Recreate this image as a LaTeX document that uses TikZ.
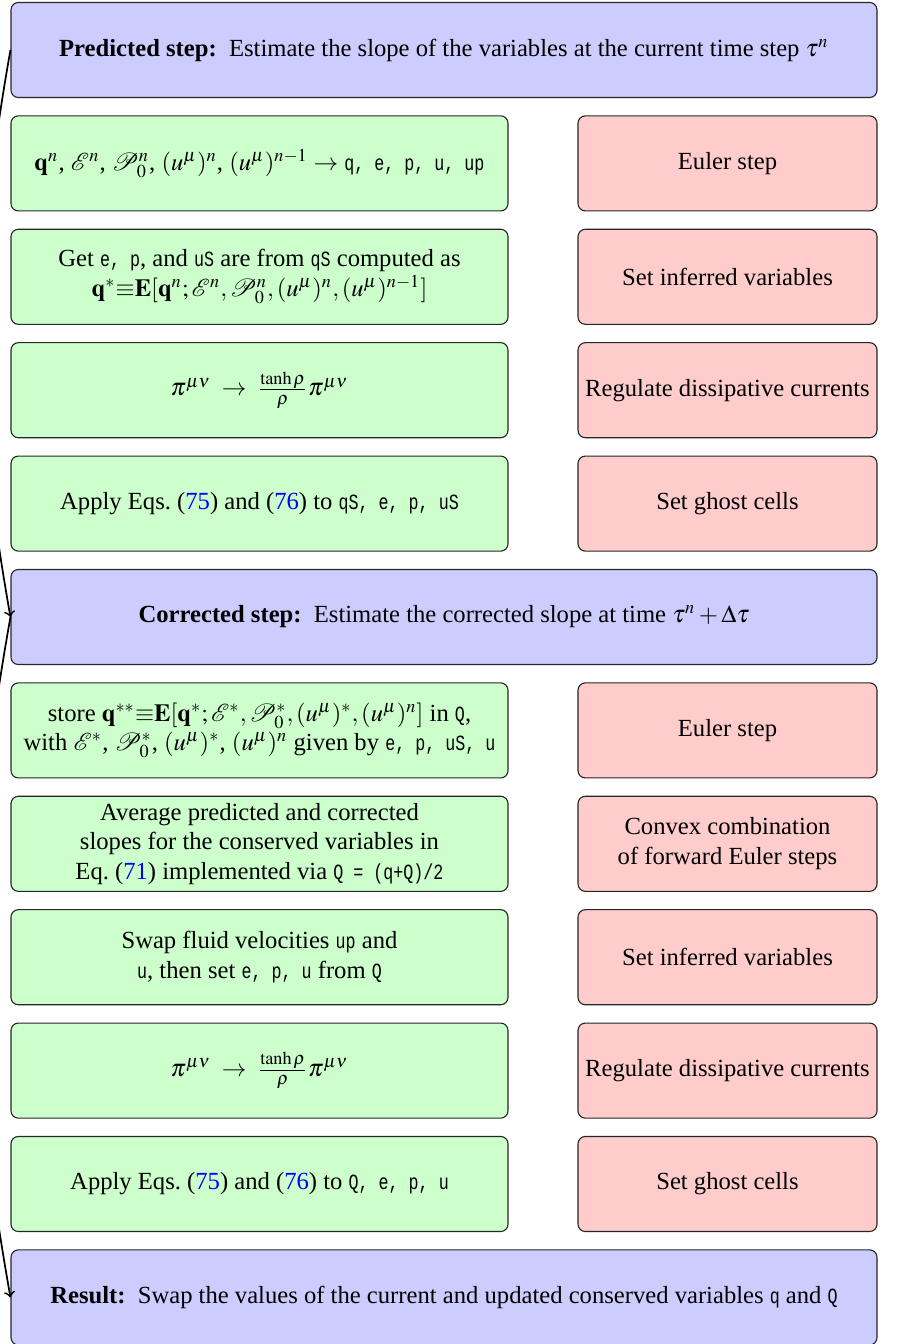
\documentclass[tikz,border=0pt]{standalone}
\usepackage{mathptmx}
\usepackage{mathrsfs}
\usepackage{fontspec}
\setmainfont{Liberation Serif}
\setmonofont{Liberation Mono}[Scale=0.88, FakeStretch=0.77]
\usetikzlibrary{arrows}
\tikzset{
  base/.style={draw=black!85, line width=0.45pt, rounded corners=3pt, minimum height=38.6pt, align=center, font=\fontsize{10}{12}\selectfont, inner sep=2pt},
  bigbox/.style={base, fill=blue!20, minimum width=351.6pt},
  gbox/.style={base, fill=green!20, minimum width=201.8pt},
  rbox/.style={base, fill=red!20, minimum width=121.4pt},
  flow/.style={->, >=to, line width=0.7pt}
}
\newcommand{\eqref}[1]{(\textcolor{blue}{#1})}
\begin{document}
\begin{tikzpicture}[x=0.406pt, y=-0.406pt]
\useasboundingbox (0,0) rectangle (899,1344);
\def\gx{259.5}
\def\rx{727.5}
\node[bigbox] (pred) at (444,50) {\textbf{Predicted step:}\ \ Estimate the slope of the variables at the current time step $\tau^n$};
\node[gbox] (g1) at (\gx,163.4) {$\mathbf{q}^n$, $\mathscr{E}^n$, $\mathscr{P}_0^n$, $(u^\mu)^n$, $(u^\mu)^{n-1} \rightarrow$ \texttt{q, e, p, u, up}};
\node[rbox] (r1) at (\rx,163.4) {Euler step};
\node[gbox] (g2) at (\gx,276.8) {Get \texttt{e, p}, and \texttt{uS} are from \texttt{qS} computed as\\ $\mathbf{q}^*{\equiv}\mathbf{E}[\mathbf{q}^n;\mathscr{E}^n,\mathscr{P}_0^n,(u^\mu)^n,(u^\mu)^{n-1}]$};
\node[rbox] (r2) at (\rx,276.8) {Set inferred variables};
\node[gbox] (g3) at (\gx,390.2) {$\pi^{\mu\nu} \;\rightarrow\; \frac{\tanh\rho}{\rho}\pi^{\mu\nu}$};
\node[rbox] (r3) at (\rx,390.2) {Regulate dissipative currents};
\node[gbox] (g4) at (\gx,503.6) {Apply Eqs.~\eqref{75} and \eqref{76} to \texttt{qS, e, p, uS}};
\node[rbox] (r4) at (\rx,503.6) {Set ghost cells};
\node[bigbox] (corr) at (444,617) {\textbf{Corrected step:}\ \ Estimate the corrected slope at time $\tau^n+\Delta\tau$};
\node[gbox] (g5) at (\gx,730.4) {store $\mathbf{q}^{**}{\equiv}\mathbf{E}[\mathbf{q}^*;\mathscr{E}^*,\mathscr{P}_0^*,(u^\mu)^*,(u^\mu)^n]$ in \texttt{Q},\\ with $\mathscr{E}^*$, $\mathscr{P}_0^*$, $(u^\mu)^*$, $(u^\mu)^n$ given by \texttt{e, p, uS, u}};
\node[rbox] (r5) at (\rx,730.4) {Euler step};
\node[gbox] (g6) at (\gx,843.8) {Average predicted and corrected\\ slopes for the conserved variables in\\ Eq.~\eqref{71} implemented via \texttt{Q = (q+Q)/2}};
\node[rbox] (r6) at (\rx,843.8) {Convex combination\\ of forward Euler steps};
\node[gbox] (g7) at (\gx,957.2) {Swap fluid velocities \texttt{up} and\\ \texttt{u}, then set \texttt{e, p, u} from \texttt{Q}};
\node[rbox] (r7) at (\rx,957.2) {Set inferred variables};
\node[gbox] (g8) at (\gx,1070.6) {$\pi^{\mu\nu} \;\rightarrow\; \frac{\tanh\rho}{\rho}\pi^{\mu\nu}$};
\node[rbox] (r8) at (\rx,1070.6) {Regulate dissipative currents};
\node[gbox] (g9) at (\gx,1184) {Apply Eqs.~\eqref{75} and \eqref{76} to \texttt{Q, e, p, u}};
\node[rbox] (r9) at (\rx,1184) {Set ghost cells};
\node[bigbox] (res) at (444,1297.4) {\textbf{Result:}\ \ Swap the values of the current and updated conserved variables \texttt{q} and \texttt{Q}};
\draw[flow] (pred.west) to[bend right=10] (corr.west);
\draw[flow] (corr.west) to[bend right=10] (res.west);
\end{tikzpicture}
\end{document}
